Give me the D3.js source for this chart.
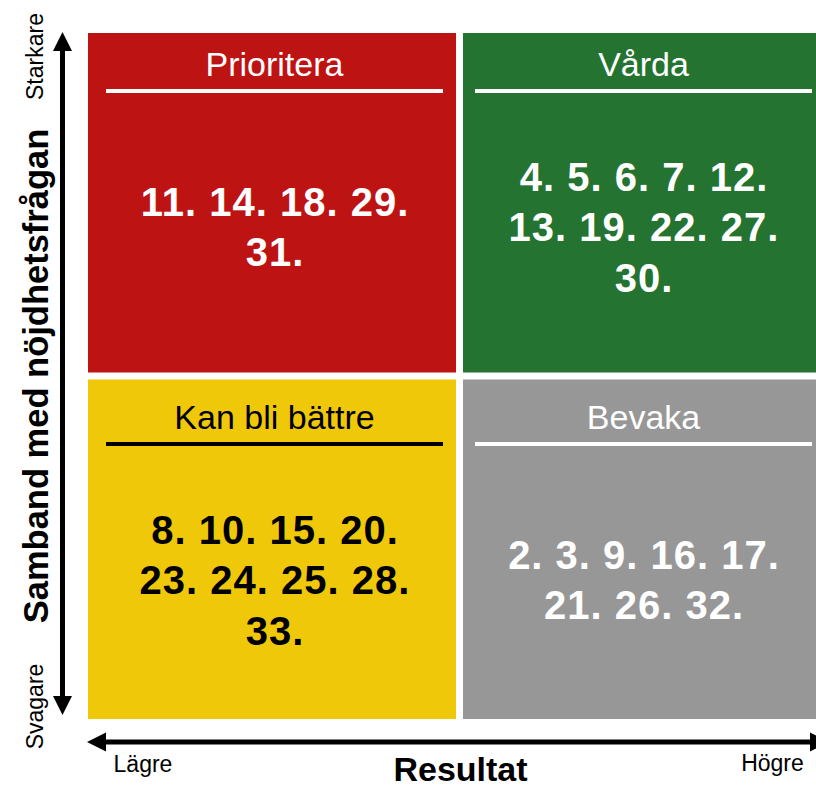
<!DOCTYPE html>
<html>
<head>
<meta charset="utf-8">
<script src="https://cdn.jsdelivr.net/npm/d3@7"></script>
<style>
  html, body { margin: 0; padding: 0; background: #ffffff; }
  svg { display: block; }
  text { font-family: "Liberation Sans", Arial, sans-serif; }
</style>
</head>
<body>
<svg id="chart" width="816" height="789"></svg>
<script>
// ---- data ----
const columns = ["Lägre", "Högre"];           // Resultat
const rows = ["Starkare", "Svagare"];          // Samband med nöjdhetsfrågan
const quadrantNames = ["Prioritera", "Vårda", "Kan bli bättre", "Bevaka"];
const quadrantCols = ["Lägre", "Högre", "Lägre", "Högre"];
const quadrantRows = ["Starkare", "Starkare", "Svagare", "Svagare"];
const prioriteraLines = ["11. 14. 18. 29.", "31."];
const vardaLines = ["4. 5. 6. 7. 12.", "13. 19. 22. 27.", "30."];
const kanBliBattreLines = ["8. 10. 15. 20.", "23. 24. 25. 28.", "33."];
const bevakaLines = ["2. 3. 9. 16. 17.", "21. 26. 32."];
const quadrantLines = [prioriteraLines, vardaLines, kanBliBattreLines, bevakaLines];
const quadrantFill = ["#BE1313", "#247330", "#F0C80A", "#979797"];
const quadrantInk = ["#ffffff", "#ffffff", "#000000", "#ffffff"];
const xAxisTitle = "Resultat";
const yAxisTitle = "Samband med nöjdhetsfrågan";

// ---- scales ----
const svg = d3.select("#chart");
const x = d3.scaleBand().domain(columns).range([88, 831]).paddingInner(7 / 375);
const y = d3.scaleBand().domain(rows).range([33, 719]).paddingInner(7 / 346.5);

const quads = quadrantNames.map((name, i) => ({
  name, col: quadrantCols[i], row: quadrantRows[i],
  lines: quadrantLines[i], fill: quadrantFill[i], ink: quadrantInk[i]
}));

const g = svg.selectAll("g.quad").data(quads).enter().append("g").attr("class", "quad");

g.append("rect")
  .attr("x", d => x(d.col))
  .attr("y", d => y(d.row))
  .attr("width", x.bandwidth())
  .attr("height", y.bandwidth())
  .attr("fill", d => d.fill);

const nudge = d => (d.col === columns[0] ? 2.5 : -3.5);
const rowShift = d => (d.row === rows[0] ? 0 : 6.5);
const cx = d => x(d.col) + x.bandwidth() / 2 + nudge(d);

// titles
g.append("text")
  .attr("x", cx)
  .attr("y", d => y(d.row) + 43 + rowShift(d))
  .attr("text-anchor", "middle")
  .attr("font-size", 34)
  .attr("fill", d => d.ink)
  .text(d => d.name);

// underlines
g.append("line")
  .attr("x1", d => cx(d) - 168.5)
  .attr("x2", d => cx(d) + 168.5)
  .attr("y1", d => y(d.row) + 58 + rowShift(d))
  .attr("y2", d => y(d.row) + 58 + rowShift(d))
  .attr("stroke", d => d.ink)
  .attr("stroke-width", 4);

// item numbers
const lineGap = 50.5;
g.each(function(d) {
  const n = d.lines.length;
  const center = y(d.row) + 194 + rowShift(d);
  d3.select(this).selectAll("text.items").data(d.lines).enter().append("text")
    .attr("class", "items")
    .attr("x", cx(d) + 0.5)
    .attr("y", (t, i) => center + 14 + (i - (n - 1) / 2) * lineGap)
    .attr("text-anchor", "middle")
    .attr("font-size", 40)
    .attr("font-weight", "bold")
    .attr("letter-spacing", 1)
    .attr("fill", d.ink)
    .text(t => t);
});

// ---- axes arrows ----
const axisG = svg.append("g");
const head = 19, halfW = 9.5, sw = 5;
const vx = 62.5, vTop = 32, vBot = 715;
axisG.append("line").attr("x1", vx).attr("x2", vx).attr("y1", vTop + head - 2).attr("y2", vBot - head + 2)
  .attr("stroke", "#000").attr("stroke-width", sw);
axisG.append("path").attr("d", `M${vx},${vTop} L${vx - halfW},${vTop + head} L${vx + halfW},${vTop + head} Z`).attr("fill", "#000");
axisG.append("path").attr("d", `M${vx},${vBot} L${vx - halfW},${vBot - head} L${vx + halfW},${vBot - head} Z`).attr("fill", "#000");

const hy = 742, hLeft = 87, hRight = 829;
axisG.append("line").attr("x1", hLeft + head - 2).attr("x2", hRight - head + 2).attr("y1", hy).attr("y2", hy)
  .attr("stroke", "#000").attr("stroke-width", sw);
axisG.append("path").attr("d", `M${hLeft},${hy} L${hLeft + head},${hy - halfW} L${hLeft + head},${hy + halfW} Z`).attr("fill", "#000");
axisG.append("path").attr("d", `M${hRight},${hy} L${hRight - head},${hy - halfW} L${hRight - head},${hy + halfW} Z`).attr("fill", "#000");

// end labels
svg.append("text").attr("transform", "translate(43,56.5) rotate(-90)")
  .attr("text-anchor", "middle").attr("font-size", 23).attr("fill", "#000").text(rows[0]);
svg.append("text").attr("transform", "translate(43,706.5) rotate(-90)")
  .attr("text-anchor", "middle").attr("font-size", 23).attr("fill", "#000").text(rows[1]);
svg.append("text").attr("x", 143).attr("y", 772)
  .attr("text-anchor", "middle").attr("font-size", 23).attr("fill", "#000").text(columns[0]);
svg.append("text").attr("x", 772.5).attr("y", 771)
  .attr("text-anchor", "middle").attr("font-size", 23).attr("fill", "#000").text(columns[1]);

// axis titles
svg.append("text").attr("transform", "translate(48,376) rotate(-90)")
  .attr("text-anchor", "middle").attr("font-size", 34.5).attr("font-weight", "bold")
  .attr("fill", "#000").text(yAxisTitle);
svg.append("text").attr("x", 460.5).attr("y", 781)
  .attr("text-anchor", "middle").attr("font-size", 34).attr("font-weight", "bold")
  .attr("fill", "#000").text(xAxisTitle);
</script>
</body>
</html>
